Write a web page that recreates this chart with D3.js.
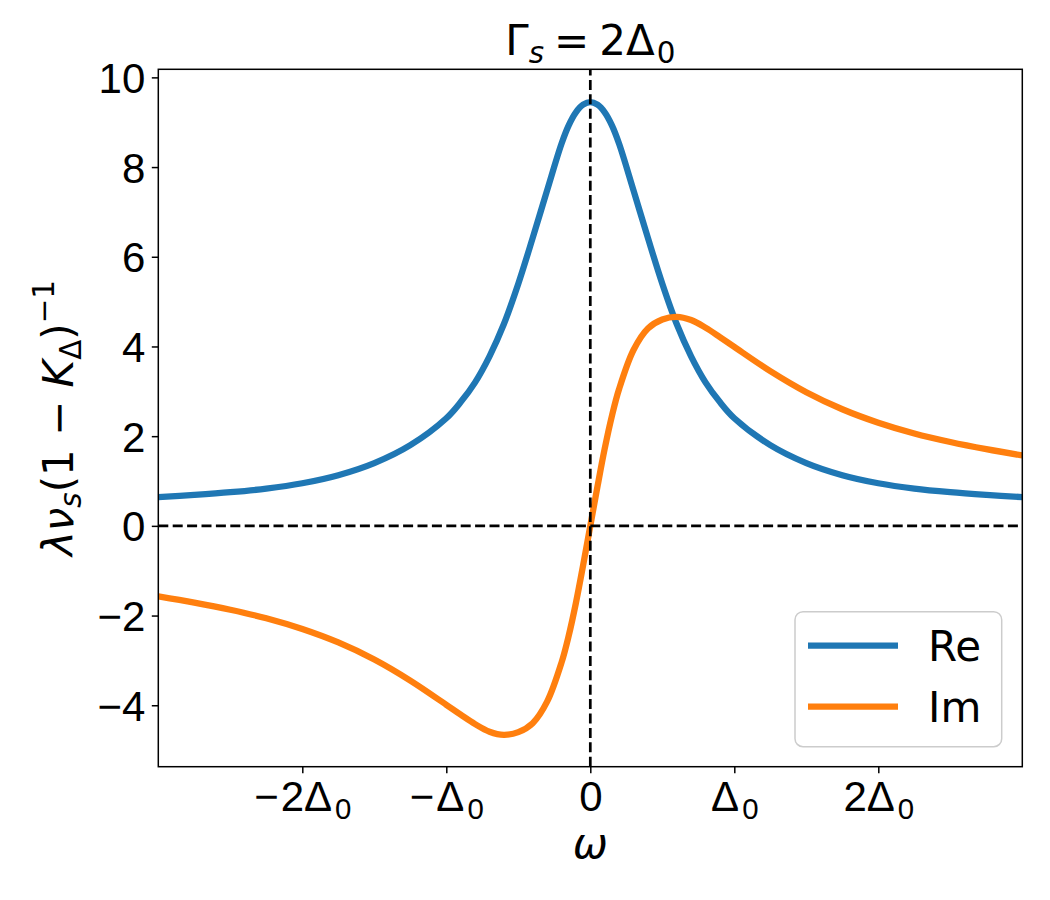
<!DOCTYPE html>
<html>
<head>
<meta charset="utf-8">
<script src="https://cdn.jsdelivr.net/npm/d3@7/dist/d3.min.js"></script>
<style>
  body { margin: 0; background: #fff; }
  svg { display: block; font-family: "DejaVu Sans", sans-serif; }
</style>
</head>
<body>
<div id="chart"></div>
<script>
// values, omega in units of Delta_0
const omega = [-3, -2.75, -2.5, -2.25, -2, -1.75, -1.5, -1.25, -1, -0.9, -0.8, -0.7, -0.6, -0.5, -0.4, -0.3, -0.2, -0.15, -0.1, -0.05,
  0, 0.05, 0.1, 0.15, 0.2, 0.3, 0.4, 0.5, 0.6, 0.7, 0.8, 0.9, 1, 1.25, 1.5, 1.75, 2, 2.25, 2.5, 2.75, 3];
const reValues = [0.64, 0.69, 0.75, 0.83, 0.95, 1.13, 1.40, 1.80, 2.40, 2.76, 3.20, 3.78, 4.50, 5.40, 6.42, 7.48, 8.52, 8.93, 9.22, 9.39,
  9.45, 9.39, 9.22, 8.93, 8.52, 7.48, 6.42, 5.40, 4.50, 3.78, 3.20, 2.76, 2.40, 1.80, 1.40, 1.13, 0.95, 0.83, 0.75, 0.69, 0.64];
const imValues = [-1.57, -1.71, -1.87, -2.06, -2.30, -2.60, -2.98, -3.45, -3.99, -4.21, -4.42, -4.59, -4.66, -4.60, -4.40, -3.92, -3.05, -2.45, -1.72, -0.88,
  0, 0.88, 1.72, 2.45, 3.05, 3.92, 4.40, 4.60, 4.66, 4.59, 4.42, 4.21, 3.99, 3.45, 2.98, 2.60, 2.30, 2.06, 1.87, 1.71, 1.57];

const seriesNames = ['Re', 'Im'];
const seriesColors = ['#1f77b4', '#ff7f0e'];

const xTicks = [-2, -1, 0, 1, 2];
const xTickLabels = ['−2Δ_0', '−Δ_0', '0', 'Δ_0', '2Δ_0'];
const yTicks = [-4, -2, 0, 2, 4, 6, 8, 10];
const xDomain = [-3, 3];
const yDomain = [-5.37, 10.18];

const W = 1050, H = 900;
const plot = { left: 158.3, right: 1022.3, top: 69.3, bottom: 766.7 };
const fs = 42;

const svg = d3.select('#chart').append('svg')
  .attr('width', W).attr('height', H);
svg.append('rect').attr('width', W).attr('height', H).attr('fill', '#fff');

const x = d3.scaleLinear().domain(xDomain).range([plot.left, plot.right]);
const y = d3.scaleLinear().domain(yDomain).range([plot.bottom, plot.top]);

// mathtext-ish helper: parts with italic / sub / sup
function rich(textSel, parts, size) {
  let shift = 0;
  parts.forEach(p => {
    const small = p.sub || p.sup;
    const target = p.sub ? size * 0.2 : p.sup ? -size * 0.45 : 0;
    const ts = textSel.append('tspan')
      .attr('dy', target - shift)
      .attr('font-size', small ? size * 0.7 : size)
      .attr('font-style', p.it ? 'italic' : 'normal')
      .text(p.t);
    if (p.dx) ts.attr('dx', p.dx);
    shift = target;
  });
}
// tick label like "−2Δ_0"
function parseTick(s) {
  const [main, sub] = s.split('_');
  const parts = [];
  if (main.startsWith('−')) {
    parts.push({ t: '−' });
    parts.push({ t: main.slice(1), dx: 2 });
  } else {
    parts.push({ t: main });
  }
  if (sub) parts.push({ t: sub, sub: true, dx: 3 });
  return parts;
}

svg.append('defs').append('clipPath').attr('id', 'clip')
  .append('rect')
  .attr('x', plot.left).attr('y', plot.top)
  .attr('width', plot.right - plot.left).attr('height', plot.bottom - plot.top);

// curves
const line = d3.line()
  .x(d => x(d[0]))
  .y(d => y(d[1]))
  .curve(d3.curveCatmullRom.alpha(0.5));

[reValues, imValues].forEach((vals, i) => {
  svg.append('path')
    .datum(omega.map((w, j) => [w, vals[j]]))
    .attr('clip-path', 'url(#clip)')
    .attr('fill', 'none')
    .attr('stroke', seriesColors[i])
    .attr('stroke-width', 6.3)
    .attr('stroke-linejoin', 'round')
    .attr('d', line);
});

// reference lines at zero
const dash = '10,4.4';
svg.append('line')
  .attr('x1', plot.left).attr('x2', plot.right)
  .attr('y1', y(0)).attr('y2', y(0))
  .attr('stroke', '#000').attr('stroke-width', 2.7).attr('stroke-dasharray', dash);
svg.append('line')
  .attr('x1', x(0)).attr('x2', x(0))
  .attr('y1', plot.bottom).attr('y2', plot.top)
  .attr('stroke', '#000').attr('stroke-width', 2.7).attr('stroke-dasharray', dash);

// axes
const xAxis = svg.append('g')
  .attr('transform', `translate(0,${plot.bottom})`)
  .call(d3.axisBottom(x).tickValues(xTicks).tickSize(6.5).tickFormat(() => ''));
const yAxis = svg.append('g')
  .attr('transform', `translate(${plot.left},0)`)
  .call(d3.axisLeft(y).tickValues(yTicks).tickSize(6.5).tickFormat(() => ''));
[xAxis, yAxis].forEach(g => {
  g.select('.domain').remove();
  g.selectAll('.tick line').attr('stroke', '#000').attr('stroke-width', 1.5);
  g.selectAll('.tick text').remove();
});

xAxis.selectAll('.tick').each(function (d, i) {
  const t = d3.select(this).append('text')
    .attr('x', 0).attr('y', 44)
    .attr('text-anchor', 'middle')
    .attr('fill', '#000');
  rich(t, parseTick(xTickLabels[i]), fs);
});
yAxis.selectAll('.tick').each(function (d) {
  d3.select(this).append('text')
    .attr('x', -13).attr('y', 0).attr('dy', '0.36em')
    .attr('text-anchor', 'end')
    .attr('font-size', fs)
    .attr('fill', '#000')
    .text(d < 0 ? '−' + Math.abs(d) : d);
});

// frame
svg.append('rect')
  .attr('x', plot.left).attr('y', plot.top)
  .attr('width', plot.right - plot.left).attr('height', plot.bottom - plot.top)
  .attr('fill', 'none').attr('stroke', '#000').attr('stroke-width', 1.5);

// title
const title = svg.append('text')
  .attr('x', (plot.left + plot.right) / 2).attr('y', 55)
  .attr('text-anchor', 'middle');
rich(title, [{ t: 'Γ' }, { t: 's', it: true, sub: true }, { t: '=', dx: 10 }, { t: '2Δ', dx: 10 }, { t: '0', sub: true, dx: 2 }], fs);

// x label
svg.append('text')
  .attr('x', (plot.left + plot.right) / 2).attr('y', 858)
  .attr('text-anchor', 'middle')
  .attr('font-size', fs).attr('font-style', 'italic')
  .text('ω');

// y label
const yl = svg.append('text')
  .attr('transform', `translate(73,${(plot.top + plot.bottom) / 2}) rotate(-90)`)
  .attr('text-anchor', 'middle');
rich(yl, [
  { t: 'λν', it: true }, { t: 's', it: true, sub: true },
  { t: '(1 − ' }, { t: 'K', it: true }, { t: 'Δ', sub: true },
  { t: ')' }, { t: '−1', sup: true }
], fs);

// legend
const leg = { x: 795, y: 611.7, w: 206.7, h: 135, row0: 34, rowGap: 61 };
svg.append('rect')
  .attr('x', leg.x).attr('y', leg.y).attr('width', leg.w).attr('height', leg.h)
  .attr('rx', 8).attr('fill', '#fff').attr('fill-opacity', 0.8)
  .attr('stroke', '#cccccc').attr('stroke-width', 1.5);
seriesNames.forEach((name, i) => {
  const ry = leg.y + leg.row0 + i * leg.rowGap;
  svg.append('line')
    .attr('x1', leg.x + 13).attr('x2', leg.x + 103)
    .attr('y1', ry).attr('y2', ry)
    .attr('stroke', seriesColors[i]).attr('stroke-width', 6.3);
  svg.append('text')
    .attr('x', leg.x + 133).attr('y', ry + 15)
    .attr('font-size', fs)
    .text(name);
});
</script>
</body>
</html>
